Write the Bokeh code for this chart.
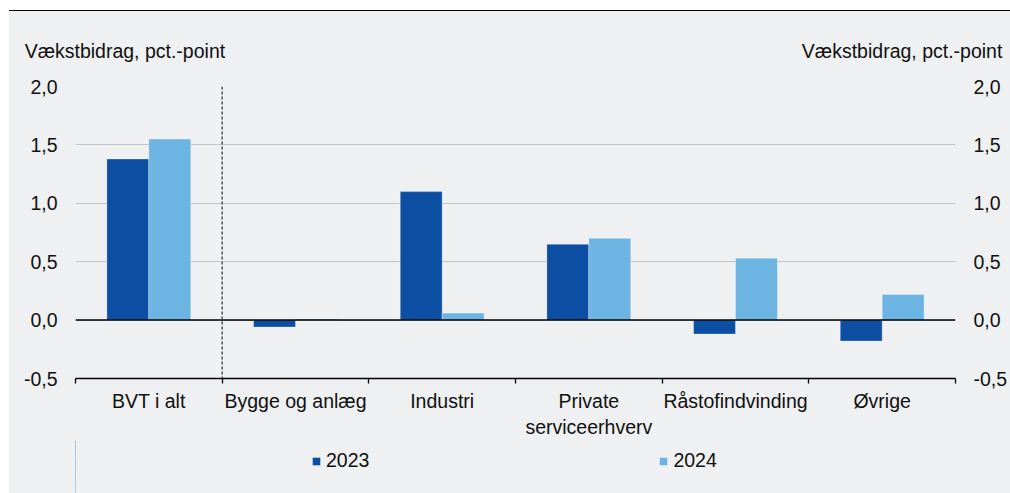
import numpy as np
from bokeh.plotting import figure
from bokeh.models import (Range1d, LinearAxis, FixedTicker, CustomJSTickFormatter, Span,
                          Legend, LegendItem, Div, ColumnDataSource)
from bokeh.layouts import column
from bokeh.embed import file_html
from bokeh.resources import INLINE

# ---- data ----
categories = ["BVT i alt", "Bygge og anlæg", "Industri", "Private\nserviceerhverv",
              "Råstofindvinding", "Øvrige"]
series_names = ["2023", "2024"]
values_2023 = [1.38, -0.06, 1.10, 0.65, -0.12, -0.18]
values_2024 = [1.55, 0.01, 0.06, 0.70, 0.53, 0.22]
y_ticks = [-0.5, 0.0, 0.5, 1.0, 1.5, 2.0]
y_title = "Vækstbidrag, pct.-point"

# ---- style ----
FONT = "Liberation Sans"
FS = "19.5px"
TXT = "#111111"
BG = "#eff0f2"
DARK = "#0b4ea2"
LIGHT = "#6cb4e2"

n = len(categories)
centers = np.arange(n) + 0.5
bar_w = 0.286

src = ColumnDataSource(dict(
    x23=centers - bar_w / 2,
    x24=centers + bar_w / 2,
    v23=values_2023,
    v24=values_2024,
))

W, H = 1001, 429
ML, MR, MT, MB = 66, 53, 75, 61
frame_w = W - ML - MR

p = figure(width=W, height=H, x_range=Range1d(0, n), y_range=Range1d(y_ticks[0], y_ticks[-1]),
           output_backend="svg", toolbar_location=None, margin=(0, 0, 0, 9),
           min_border_left=ML, min_border_right=MR, min_border_top=MT, min_border_bottom=MB,
           background_fill_color=BG, border_fill_color=BG, outline_line_color=None,
           styles={"background-color": BG})

bar_style = dict(line_color="white", line_alpha=0.35, line_width=1)

# bars
p.vbar(x="x23", top="v23", bottom=0, width=bar_w, source=src, fill_color=DARK, **bar_style)
p.vbar(x="x24", top="v24", bottom=0, width=bar_w, source=src, fill_color=LIGHT, **bar_style)

# grid
p.xgrid.visible = False
p.ygrid.ticker = FixedTicker(ticks=y_ticks[1:])
p.ygrid.grid_line_color = "#c4c4c4"
p.ygrid.grid_line_width = 1

fmt = CustomJSTickFormatter(code="return tick.toFixed(1).replace('.', ',');")

def style_value_axis(ax, standoff):
    ax.ticker = FixedTicker(ticks=y_ticks)
    ax.formatter = fmt
    ax.axis_line_color = None
    ax.major_tick_out = 0
    ax.major_tick_in = 0
    ax.minor_tick_line_color = None
    ax.major_label_standoff = standoff
    ax.major_label_text_font = FONT
    ax.major_label_text_font_size = FS
    ax.major_label_text_color = TXT

style_value_axis(p.yaxis[0], 18)
ra = LinearAxis()
style_value_axis(ra, 18)
p.add_layout(ra, "right")

# x axis: labels at centres, tick marks at category boundaries
xa = p.xaxis[0]
xa.ticker = FixedTicker(ticks=list(centers), minor_ticks=list(range(n + 1)))
xa.formatter = CustomJSTickFormatter(args=dict(names=categories),
                                     code="return names[Math.floor(tick)];")
xa.axis_line_color = "black"
xa.axis_line_width = 1.5
xa.major_tick_out = 0
xa.major_tick_in = 0
xa.minor_tick_out = 5
xa.minor_tick_in = 0
xa.minor_tick_line_color = "black"
xa.minor_tick_line_width = 1.3
xa.major_label_standoff = 6
xa.major_label_text_font = FONT
xa.major_label_text_font_size = FS
xa.major_label_text_color = TXT

# axis titles above the plot (left and right), as labels of a bare top axis
px_per_unit = frame_w / n
title_half = 100.5
left_title_center = (-51 + title_half) / px_per_unit
right_title_center = (frame_w + 47 - title_half) / px_per_unit
ta = LinearAxis(ticker=FixedTicker(ticks=[left_title_center, right_title_center], minor_ticks=[]),
                formatter=CustomJSTickFormatter(args=dict(t=y_title), code="return t;"))
ta.axis_line_color = None
ta.major_tick_out = 0
ta.major_tick_in = 0
ta.minor_tick_line_color = None
ta.major_label_standoff = 25
ta.major_label_text_font = FONT
ta.major_label_text_font_size = FS
ta.major_label_text_color = TXT
p.add_layout(ta, "above")

# zero line and separator
p.add_layout(Span(location=0, dimension="width", line_color="black", line_width=1.5))
p.add_layout(Span(location=1, dimension="height", line_color="#505050",
                  line_dash="3 2", line_width=1.5))

# legend strip (own small figure below the chart); its key renderers share the
# chart's data but lie outside this strip's visible range, so only the keys show
H2 = 53
pl = figure(width=W, height=H2, x_range=Range1d(100, 101), y_range=Range1d(0, 1),
            output_backend="svg", toolbar_location=None, margin=(0, 0, 0, 9),
            x_axis_type=None, y_axis_type=None, min_border=0,
            background_fill_color=BG, border_fill_color=BG, outline_line_color=None,
            styles={"background-color": BG})
pl.xgrid.visible = False
pl.ygrid.visible = False
k23 = pl.vbar(x="x23", top="v23", bottom=0, width=bar_w, source=src, fill_color=DARK, **bar_style)
k24 = pl.vbar(x="x24", top="v24", bottom=0, width=bar_w, source=src, fill_color=LIGHT, **bar_style)
legend = Legend(items=[LegendItem(label=series_names[0], renderers=[k23]),
                       LegendItem(label=series_names[1], renderers=[k24])],
                orientation="horizontal", location=(236, 21),
                glyph_width=10, glyph_height=10, label_standoff=5, spacing=289,
                padding=0, margin=0, border_line_color=None, background_fill_alpha=0,
                label_text_font=FONT, label_text_font_size=FS, label_text_color=TXT,
                label_height=20)
pl.add_layout(legend)

top_line = Div(text="", width=1001, height=1, margin=(10, 0, 0, 9),
               styles={"background-color": "black", "overflow": "hidden"})

layout = column(top_line, p, pl, spacing=0)

open("out.html", "w").write(file_html(layout, INLINE))
